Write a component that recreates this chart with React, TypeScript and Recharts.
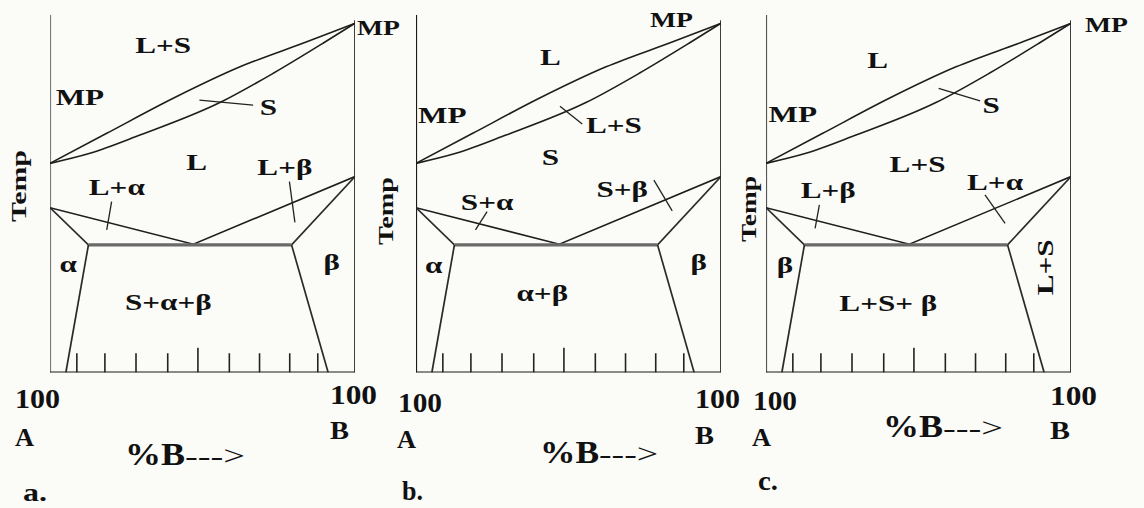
import React from "react";
import { ComposedChart, Line, Scatter, XAxis, YAxis } from "recharts";

type Pt = { x: number; t: number };
type Lbl = { x: number; t: number; text: string; vertical?: boolean };

// ---------- phase-boundary data: x = %B, t = temperature (0..100 of plot height)
const liquidusLens: Pt[] = [
  { x: 0, t: 58.5 }, { x: 18.6, t: 66.9 }, { x: 40.4, t: 76.7 },
  { x: 62.3, t: 85.5 }, { x: 84.2, t: 92.5 }, { x: 100, t: 97.7 },
];
const solidusLens: Pt[] = [
  { x: 0, t: 58.5 }, { x: 13.1, t: 61.3 }, { x: 29.5, t: 66.4 },
  { x: 55.7, t: 75.5 }, { x: 73.2, t: 83.7 }, { x: 89.5, t: 92.1 }, { x: 100, t: 97.7 },
];
const eutecticLiquidus: Pt[] = [{ x: 0, t: 46.1 }, { x: 47.0, t: 35.9 }, { x: 100, t: 54.8 }];
const leftSolidus: Pt[] = [{ x: 0, t: 46.1 }, { x: 12.6, t: 35.7 }];
const rightSolidus: Pt[] = [{ x: 100, t: 54.8 }, { x: 79.2, t: 35.7 }];
const eutecticLine: Pt[] = [{ x: 12.6, t: 35.7 }, { x: 79.2, t: 35.7 }];
const leftSolvus: Pt[] = [{ x: 12.6, t: 35.7 }, { x: 5.2, t: 0 }];
const rightSolvus: Pt[] = [{ x: 79.2, t: 35.7 }, { x: 91.2, t: 0 }];
const leftAxis: Pt[] = [{ x: 0, t: 0 }, { x: 0, t: 100 }];
const bottomAxis: Pt[] = [{ x: 0, t: 0 }, { x: 100, t: 0 }];
const rightAxis: Pt[] = [{ x: 100, t: 0 }, { x: 100, t: 98.5 }];

// ---------- composition ticks along the bottom
const tickPositions = [8.8, 18, 28.2, 38.6, 48.5, 58.8, 68.7, 78.6, 87.8];
const tickHeights = [5.4, 5.4, 5.4, 5.4, 6.9, 5.4, 5.4, 5.4, 5.4];

// ---------- region labels
const labelsA: Lbl[] = [
  { x: 37.1, t: 91.6, text: "L+S" }, { x: 9.8, t: 77.0, text: "MP" },
  { x: 71.6, t: 74.3, text: "S" }, { x: 48.1, t: 59.0, text: "L" },
  { x: 77.0, t: 57.6, text: "L+β" }, { x: 21.9, t: 52.0, text: "L+α" },
  { x: 6.0, t: 30.3, text: "α" }, { x: 92.4, t: 31.0, text: "β" },
  { x: 38.8, t: 19.8, text: "S+α+β" },
];
const labelsB: Lbl[] = [
  { x: 44.1, t: 88.3, text: "L" }, { x: 8.6, t: 72.0, text: "MP" },
  { x: 64.9, t: 69.2, text: "L+S" }, { x: 44.1, t: 60.4, text: "S" },
  { x: 23.3, t: 47.8, text: "S+α" }, { x: 67.6, t: 51.5, text: "S+β" },
  { x: 5.8, t: 30.1, text: "α" }, { x: 92.7, t: 31.0, text: "β" },
  { x: 41.4, t: 22.2, text: "α+β" },
];
const labelsC: Lbl[] = [
  { x: 36.6, t: 87.4, text: "L" }, { x: 8.8, t: 72.5, text: "MP" },
  { x: 73.8, t: 74.8, text: "S" }, { x: 49.7, t: 58.5, text: "L+S" },
  { x: 20.4, t: 51.0, text: "L+β" }, { x: 75.1, t: 53.4, text: "L+α" },
  { x: 6.2, t: 30.1, text: "β" }, { x: 91.5, t: 29.4, text: "L+S", vertical: true },
  { x: 40.1, t: 19.5, text: "L+S+ β" },
];

// ---------- leader lines pointing labels to boundaries
const leadersA: Pt[][] = [
  [{ x: 49.0, t: 76.2 }, { x: 66.6, t: 74.8 }],
  [{ x: 20.2, t: 47.8 }, { x: 18.6, t: 39.9 }],
  [{ x: 78.5, t: 53.4 }, { x: 80.3, t: 42.0 }],
];
const leadersB: Pt[][] = [
  [{ x: 47.2, t: 74.5 }, { x: 54.5, t: 69.5 }],
  [{ x: 23.3, t: 45.0 }, { x: 19.5, t: 39.9 }],
  [{ x: 78.0, t: 53.8 }, { x: 84.0, t: 45.2 }],
];
const leadersC: Pt[][] = [
  [{ x: 56.6, t: 79.5 }, { x: 70.2, t: 76.0 }],
  [{ x: 17.5, t: 46.9 }, { x: 16.1, t: 40.3 }],
  [{ x: 71.8, t: 49.7 }, { x: 78.4, t: 41.7 }],
];

// ---------- axis texts
const endLabels = ["100", "100"];
const componentLabels = ["A", "B"];
const xTitleMain = "%B";
const xTitleArrow = "--->";
const yTitle = "Temp";
const mpLabel = "MP";
const panelTags = ["a.", "b.", "c."];

const FONT = "'Liberation Serif', 'Times New Roman', Times, serif";
const INK = "#111";

function LabelShape(props: any) {
  const { cx, cy, payload } = props;
  if (cx == null || cy == null || !payload) return <g />;
  const rot = payload.vertical ? " rotate(-90)" : "";
  return (
    <text
      transform={`translate(${cx} ${cy})${rot} scale(1.3 1)`}
      textAnchor="middle"
      dominantBaseline="central"
      fontFamily={FONT}
      fontWeight={700}
      fontSize={24}
      fill={INK}
    >
      {payload.text}
    </text>
  );
}

const seg = (data: Pt[], key: string, stroke = "#222", w = 1.5, type: any = "linear") => (
  <Line
    key={key}
    data={data}
    dataKey="t"
    type={type}
    stroke={stroke}
    strokeWidth={w}
    dot={false}
    activeDot={false}
    isAnimationActive={false}
    legendType="none"
  />
);

function Panel({ x0, labels, leaders, axisColor }: { x0: number; labels: Lbl[]; leaders: Pt[][]; axisColor: string }) {
  return (
    <div style={{ position: "absolute", left: x0 - 10, top: 5 }}>
      <ComposedChart width={325} height={378} margin={{ top: 10, right: 10, bottom: 10.5, left: 10 }}>
        <XAxis hide type="number" dataKey="x" domain={[0, 100]} allowDataOverflow />
        <YAxis hide type="number" dataKey="t" domain={[0, 100]} allowDataOverflow />
        {seg(leftAxis, "la", axisColor, 2.2)}
        {seg(bottomAxis, "ba", "#1a1a1a", 2)}
        {seg(rightAxis, "ra", "#2a2a2a", 1.8)}
        {tickPositions.map((p, i) =>
          seg([{ x: p, t: 0 }, { x: p, t: tickHeights[i] }], "tk" + i, "#222", 1.6)
        )}
        {seg(liquidusLens, "liq", "#1e1e1e", 1.6, "monotone")}
        {seg(solidusLens, "sol", "#1e1e1e", 1.6, "monotone")}
        {seg(eutecticLiquidus, "eliq", "#1e1e1e", 1.6)}
        {seg(leftSolidus, "lsol", "#2a2a2a", 1.6)}
        {seg(rightSolidus, "rsol", "#2a2a2a", 1.6)}
        {seg(eutecticLine, "eut", "#6a6a6a", 3.2)}
        {seg(leftSolvus, "lsv", "#2a2a2a", 1.7)}
        {seg(rightSolvus, "rsv", "#2a2a2a", 1.7)}
        {leaders.map((l, i) => seg(l, "ld" + i, "#222", 1.3))}
        <Scatter data={labels} dataKey="t" shape={LabelShape} isAnimationActive={false} legendType="none" />
      </ComposedChart>
    </div>
  );
}

function T({ x, y, w, size, bold = true, children }: any) {
  return (
    <text
      x={x}
      y={y}
      fontFamily={FONT}
      fontWeight={bold ? 700 : 400}
      fontSize={size}
      fill={INK}
      textLength={w}
      lengthAdjust="spacingAndGlyphs"
    >
      {children}
    </text>
  );
}

function VT({ bx, cy, w, children }: any) {
  return (
    <text
      transform={`translate(${bx} ${cy}) rotate(-90)`}
      textAnchor="middle"
      fontFamily={FONT}
      fontWeight={700}
      fontSize={22}
      fill={INK}
      textLength={w}
      lengthAdjust="spacingAndGlyphs"
    >
      {children}
    </text>
  );
}

export default function App() {
  return (
    <div
      style={{
        position: "absolute",
        left: 0,
        top: 0,
        width: 1144,
        height: 508,
        background: "#fbfbf8",
        overflow: "hidden",
      }}
    >
      <Panel x0={50} labels={labelsA} leaders={leadersA} axisColor="#7a7a7a" />
      <Panel x0={415.5} labels={labelsB} leaders={leadersB} axisColor="#1a1a1a" />
      <Panel x0={766} labels={labelsC} leaders={leadersC} axisColor="#555" />
      <svg width={1144} height={508} style={{ position: "absolute", left: 0, top: 0, pointerEvents: "none" }}>
        {/* panel a */}
        <T x={15} y={408} w={45} size={28}>{endLabels[0]}</T>
        <T x={330} y={404} w={47} size={28}>{endLabels[1]}</T>
        <T x={15} y={446} w={19} size={25}>{componentLabels[0]}</T>
        <T x={330} y={439} w={19} size={25}>{componentLabels[1]}</T>
        <T x={125} y={465} w={60} size={32}>{xTitleMain}</T>
        <T x={185} y={465} w={60} size={28} bold={false}>{xTitleArrow}</T>
        <T x={23} y={501} w={24} size={26}>{panelTags[0]}</T>
        <T x={357} y={35} w={43} size={22}>{mpLabel}</T>
        <VT bx={26} cy={186} w={72}>{yTitle}</VT>
        {/* panel b */}
        <T x={398} y={412} w={44} size={28}>{endLabels[0]}</T>
        <T x={695} y={408} w={45} size={28}>{endLabels[1]}</T>
        <T x={397} y={448} w={19} size={25}>{componentLabels[0]}</T>
        <T x={695} y={444} w={19} size={25}>{componentLabels[1]}</T>
        <T x={540} y={463} w={59} size={32}>{xTitleMain}</T>
        <T x={599} y={463} w={59} size={28} bold={false}>{xTitleArrow}</T>
        <T x={402} y={500} w={21} size={28}>{panelTags[1]}</T>
        <T x={650} y={27} w={43} size={22}>{mpLabel}</T>
        <VT bx={393} cy={211} w={68}>{yTitle}</VT>
        {/* panel c */}
        <T x={753} y={410} w={44} size={28}>{endLabels[0]}</T>
        <T x={1050} y={405} w={47} size={28}>{endLabels[1]}</T>
        <T x={752} y={446} w={19} size={25}>{componentLabels[0]}</T>
        <T x={1050} y={439} w={20} size={25}>{componentLabels[1]}</T>
        <T x={883} y={437} w={60} size={32}>{xTitleMain}</T>
        <T x={943} y={437} w={60} size={28} bold={false}>{xTitleArrow}</T>
        <T x={758} y={490} w={20} size={28}>{panelTags[2]}</T>
        <T x={1085} y={32} w={43} size={22}>{mpLabel}</T>
        <VT bx={756} cy={209} w={66}>{yTitle}</VT>
      </svg>
    </div>
  );
}
